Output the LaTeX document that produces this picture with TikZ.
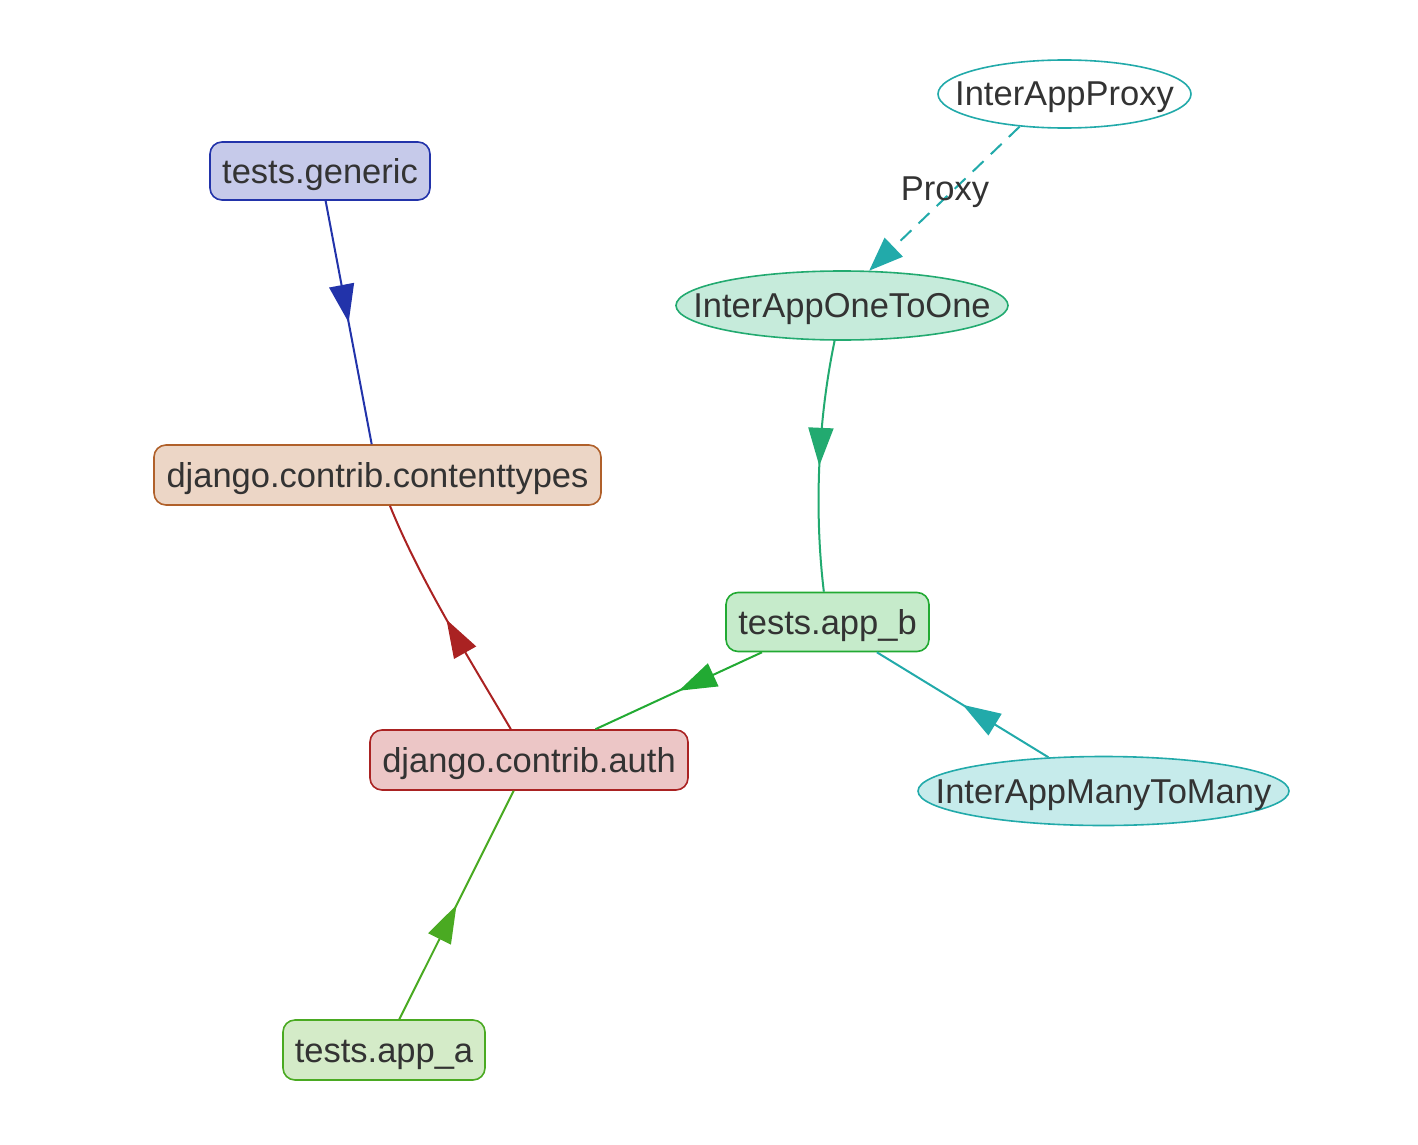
\documentclass[tikz,border=0pt]{standalone}
\usepackage{fontspec}
\setmainfont{Liberation Sans}
\usetikzlibrary{shapes.geometric,arrows.meta,decorations.markings}
\definecolor{txt}{HTML}{333333}
\definecolor{cblue}{HTML}{2233AA}
\definecolor{fblue}{HTML}{C6CAEA}
\definecolor{cbrown}{HTML}{B0602A}
\definecolor{fbrown}{HTML}{ECD6C6}
\definecolor{cred}{HTML}{AA2222}
\definecolor{fred}{HTML}{ECC6C6}
\definecolor{cgreen}{HTML}{22AA33}
\definecolor{fgreen}{HTML}{C6EBCB}
\definecolor{clime}{HTML}{4AAA22}
\definecolor{flime}{HTML}{D4EBC8}
\definecolor{cteal}{HTML}{22AAAA}
\definecolor{fteal}{HTML}{C6EBEB}
\definecolor{cmint}{HTML}{22AA70}
\definecolor{fmint}{HTML}{C6EBDB}
\tikzset{
  lbl/.style={font=\fontsize{34.5}{40}\selectfont, text=txt, text height=29pt, text depth=5pt},
  appbox/.style={lbl, draw, line width=1.6pt, rounded corners=12pt, inner sep=0pt},
  model/.style={lbl, ellipse, draw, line width=1.6pt, inner ysep=0pt, inner xsep=-40pt},
  edge/.style={line width=2pt},
  midarrow/.style={postaction={decorate}, decoration={markings,
     mark=at position 0.5 with {\arrow{Triangle[length=38pt,width=25pt]}}}}
}
\begin{document}
\begin{tikzpicture}[x=1pt,y=-1pt]
\useasboundingbox (0,0) rectangle (1418,1145);
% nodes
\node[appbox, draw=cblue, fill=fblue, minimum width=220pt, minimum height=58pt] (gen) at (320,171) {tests.generic};
\node[appbox, draw=cbrown, fill=fbrown, minimum width=447pt, minimum height=60pt] (ct) at (377.5,475) {django.contrib.contenttypes};
\node[appbox, draw=cred, fill=fred, minimum width=318pt, minimum height=60pt] (auth) at (529,760) {django.contrib.auth};
\node[appbox, draw=cgreen, fill=fgreen, minimum width=203pt, minimum height=59pt] (appb) at (827.5,622) {tests.app\_b};
\node[appbox, draw=clime, fill=flime, minimum width=202pt, minimum height=60pt] (appa) at (384,1050) {tests.app\_a};
\node[model, draw=cteal, fill=white, minimum width=253pt, minimum height=68pt] (proxy) at (1064.5,94) {InterAppProxy};
\node[model, draw=cmint, fill=fmint, minimum width=332pt, minimum height=69pt] (one) at (842,305.5) {InterAppOneToOne};
\node[model, draw=cteal, fill=fteal, minimum width=371pt, minimum height=69pt] (many) at (1103.5,791) {InterAppManyToMany};
% edges
\draw[edge, cblue, midarrow] (gen) -- (ct);
\draw[edge, cred, midarrow] (auth) .. controls (470,660) and (420,580) .. (ct);
\draw[edge, cgreen, midarrow] (appb) -- (auth);
\draw[edge, clime, midarrow] (appa) -- (auth);
\draw[edge, cteal, midarrow] (many) -- (appb);
\draw[edge, cmint, midarrow] (one) .. controls (818,420) and (814,510) .. (appb);
\draw[edge, cteal, dash pattern=on 15pt off 10pt, -{Triangle[length=34pt,width=26pt]}] (proxy.216) -- (one.52);
\node[lbl] (plabel) at (945,188) {Proxy};
\end{tikzpicture}
\end{document}
